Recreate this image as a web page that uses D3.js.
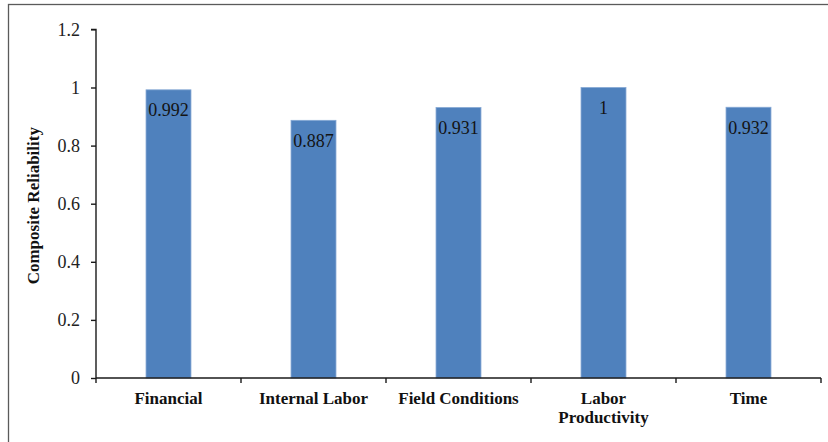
<!DOCTYPE html>
<html>
<head>
<meta charset="utf-8">
<script src="https://cdn.jsdelivr.net/npm/d3@7"></script>
<style>
  html, body { margin: 0; padding: 0; background: #fff; }
  svg { display: block; }
</style>
</head>
<body>
<svg id="chart" width="828" height="442"></svg>
<script>
const categories = ["Financial", "Internal Labor", "Field Conditions", "Labor Productivity", "Time"];
const values = [0.992, 0.887, 0.931, 1, 0.932];
const valueLabels = ["0.992", "0.887", "0.931", "1", "0.932"];
const yTicks = [0, 0.2, 0.4, 0.6, 0.8, 1, 1.2];
const yTickLabels = ["0", "0.2", "0.4", "0.6", "0.8", "1", "1.2"];
const yTitle = "Composite Reliability";

(function () {
const svg = d3.select("#chart");
const W = 828, H = 442;
const mLeft = 96, mRight = 821, mTop = 29.4, mBottom = 378;
const serif = "'Liberation Serif', 'Times New Roman', Times, serif";

// outer frame (only top and left edges visible in the crop)
svg.append("rect")
  .attr("x", 8.5).attr("y", 4.5)
  .attr("width", W + 20).attr("height", H + 20)
  .attr("fill", "none").attr("stroke", "#5a5a5a").attr("stroke-width", 1.3);

const x = d3.scaleBand().domain(categories).range([mLeft, mRight]).padding(0);
const y = d3.scaleLinear().domain([0, 1.2]).range([mBottom, mTop]);

const barFrac = 0.31;

// bars
svg.append("g").selectAll("rect")
  .data(categories)
  .join("rect")
  .attr("x", (d) => x(d) + x.bandwidth() * (1 - barFrac) / 2)
  .attr("width", x.bandwidth() * barFrac)
  .attr("y", (d, i) => y(values[i]))
  .attr("height", (d, i) => y(0) - y(values[i]))
  .attr("fill", "#4f81bd")
  .attr("stroke", "#86a8d4")
  .attr("stroke-width", 0.8);

// value labels inside bars
svg.append("g").selectAll("text")
  .data(categories)
  .join("text")
  .attr("x", (d) => x(d) + x.bandwidth() / 2)
  .attr("y", (d, i) => y(values[i]) + 26.5)
  .attr("text-anchor", "middle")
  .attr("font-family", serif)
  .attr("font-size", 18)
  .attr("fill", "#141414")
  .text((d, i) => valueLabels[i]);

// y axis
const yAxis = d3.axisLeft(y)
  .tickValues(yTicks)
  .tickFormat((d, i) => yTickLabels[i])
  .tickSize(5)
  .tickPadding(11);
const gy = svg.append("g").attr("transform", `translate(${mLeft},0)`).call(yAxis);
gy.select(".domain").attr("stroke", "#1a1a1a").attr("stroke-width", 1.4)
  .attr("d", `M-5,${mTop}H0V${mBottom}`);
gy.selectAll(".tick line").attr("stroke", "#1a1a1a").attr("stroke-width", 1.4);
gy.selectAll(".tick text")
  .attr("font-family", serif)
  .attr("font-size", 18)
  .attr("fill", "#222")
  .attr("dy", "0.33em");

// x axis: ticks at category boundaries
const boundaries = categories.map((c) => x(c)).concat([x(categories[categories.length - 1]) + x.bandwidth()]);
const gx = svg.append("g");
gx.append("line")
  .attr("x1", mLeft).attr("x2", mRight)
  .attr("y1", mBottom).attr("y2", mBottom)
  .attr("stroke", "#1a1a1a").attr("stroke-width", 1.4);
gx.selectAll("line.tk")
  .data(boundaries)
  .join("line")
  .attr("class", "tk")
  .attr("x1", (d) => d).attr("x2", (d) => d)
  .attr("y1", mBottom).attr("y2", mBottom + 5)
  .attr("stroke", "#1a1a1a").attr("stroke-width", 1.4);

// x category labels (wrap "Labor Productivity")
const wrapped = { "Labor Productivity": ["Labor", "Productivity"] };
categories.forEach((c) => {
  const lines = wrapped[c] || [c];
  const t = svg.append("text")
    .attr("x", x(c) + x.bandwidth() / 2)
    .attr("y", 404)
    .attr("text-anchor", "middle")
    .attr("font-family", serif)
    .attr("font-weight", "bold")
    .attr("font-size", 17)
    .attr("fill", "#111");
  lines.forEach((ln, k) => {
    t.append("tspan")
      .attr("x", x(c) + x.bandwidth() / 2)
      .attr("dy", k === 0 ? 0 : 18.5)
      .text(ln);
  });
});

// y axis title
svg.append("text")
  .attr("transform", `translate(39,${(mTop + mBottom) / 2 + 2}) rotate(-90)`)
  .attr("text-anchor", "middle")
  .attr("font-family", serif)
  .attr("font-weight", "bold")
  .attr("font-size", 17)
  .attr("fill", "#111")
  .text(yTitle);
})();
</script>
</body>
</html>
